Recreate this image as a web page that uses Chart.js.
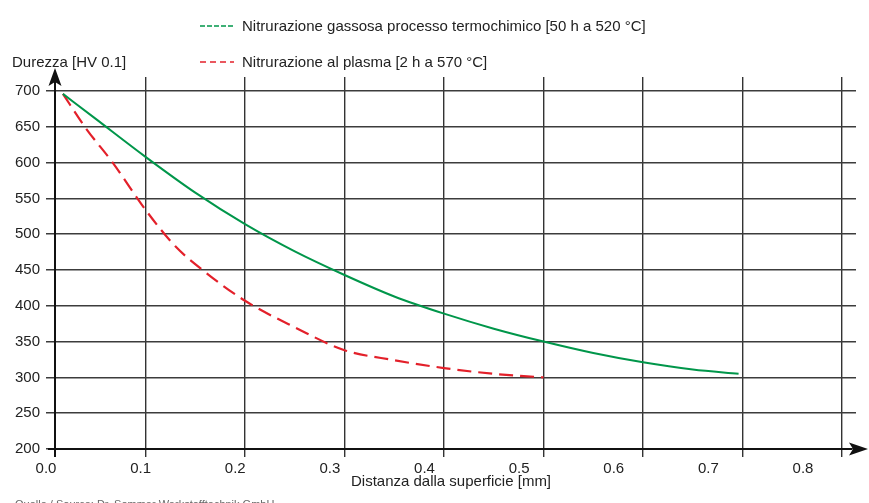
<!DOCTYPE html>
<html lang="it">
<head>
<meta charset="UTF-8">
<title>Durezza – nitrurazione gassosa vs plasma</title>
<script src="https://cdn.jsdelivr.net/npm/chart.js"></script>
<style>
  * { margin: 0; padding: 0; }
  body { width: 869px; height: 503px; overflow: hidden; background: #fff;
         font-family: "Liberation Sans", Arial, sans-serif; color: #222; }
  #wrap { position: relative; width: 869px; height: 503px; }
  #chart { position: absolute; left: 0; top: 0; }
  .lbl { position: absolute; font-size: 15px; line-height: 16px; white-space: nowrap; }
  .sample { position: absolute; }
  #source { position: absolute; left: 15px; top: 498px; font-size: 11px; line-height: 12px; color: #666; white-space: nowrap; }
</style>
</head>
<body>
<div id="wrap">
  <canvas id="chart" width="869" height="503"></canvas>
  <div id="legend"></div>
  <div class="lbl" id="ytitle" style="left:12px; top:54px;"></div>
  <div id="source">Quelle / Source: Dr. Sommer Werkstofftechnik GmbH</div>
</div>
<script>
  // values
  const xTicks = [0, 0.1, 0.2, 0.3, 0.4, 0.5, 0.6, 0.7, 0.8];
  const yTicks = [200, 250, 300, 350, 400, 450, 500, 550, 600, 650, 700];

  const gasDepth    = [0.017, 0.05, 0.1, 0.15, 0.2, 0.25, 0.3, 0.35, 0.4, 0.45, 0.5, 0.55, 0.6, 0.65, 0.696];
  const gasHardness = [696, 661, 608, 558, 514, 476, 443, 413, 389, 368, 350, 334, 321, 311, 305];

  const plasmaDepth    = [0.017, 0.04, 0.067, 0.1, 0.13, 0.16, 0.2, 0.25, 0.3, 0.35, 0.4, 0.45, 0.5];
  const plasmaHardness = [696, 648, 600, 534, 483, 447, 407, 370, 338, 324, 313, 305, 300];

  const seriesLabels = [
    'Nitrurazione gassosa processo termochimico [50 h a 520 °C]',
    'Nitrurazione al plasma [2 h a 570 °C]'
  ];
  const seriesColors = ['#00964a', '#e3202a'];
  const xTitle = 'Distanza dalla superficie [mm]';
  const yTitle = 'Durezza [HV 0.1]';

  document.getElementById('ytitle').textContent = yTitle;

  // legend (two rows, short dashed samples)
  const legendRows = [
    { top: 18, dash: '5 2', width: 1.4 },
    { top: 54, dash: '6 4', width: 1.6 }
  ];
  const legend = document.getElementById('legend');
  seriesLabels.forEach((label, i) => {
    const row = legendRows[i];
    legend.insertAdjacentHTML('beforeend',
      `<svg class="sample" style="left:200px; top:${row.top + 6}px" width="34" height="4">
         <line x1="0" y1="2" x2="34" y2="2" stroke="${seriesColors[i]}" stroke-width="${row.width}" stroke-dasharray="${row.dash}"/>
       </svg>
       <div class="lbl" style="left:242px; top:${row.top}px">${label}</div>`);
  });

  const toPoints = (xs, ys) => xs.map((x, i) => ({ x, y: ys[i] }));
  const tickList = vals => vals.map(v => ({ value: v }));

  // black axes with arrow heads
  const arrowAxes = {
    id: 'arrowAxes',
    afterDatasetsDraw(chart) {
      const { ctx, scales: { x, y }, chartArea } = chart;
      const ax = x.getPixelForValue(0) + 9;
      const ay = y.getPixelForValue(200);
      ctx.save();
      ctx.strokeStyle = '#111';
      ctx.fillStyle = '#111';
      ctx.lineWidth = 2;
      ctx.beginPath();
      ctx.moveTo(ax, chartArea.bottom);
      ctx.lineTo(ax, 82);
      ctx.moveTo(ax - 7, ay);
      ctx.lineTo(chartArea.right - 4, ay);
      ctx.stroke();

      ctx.beginPath();
      ctx.moveTo(ax, 68);
      ctx.lineTo(ax + 6.5, 86);
      ctx.lineTo(ax, 82);
      ctx.lineTo(ax - 6.5, 86);
      ctx.closePath();
      ctx.fill();

      const tip = chartArea.right + 12;
      ctx.beginPath();
      ctx.moveTo(tip, ay);
      ctx.lineTo(tip - 19, ay - 6.5);
      ctx.lineTo(tip - 15, ay);
      ctx.lineTo(tip - 19, ay + 6.5);
      ctx.closePath();
      ctx.fill();
      ctx.restore();
    }
  };

  const tickFont = { family: '"Liberation Sans", Arial, sans-serif', size: 15 };

  new Chart(document.getElementById('chart'), {
    type: 'line',
    data: {
      datasets: [{
        label: seriesLabels[0],
        data: toPoints(gasDepth, gasHardness),
        borderColor: seriesColors[0],
        borderWidth: 2,
        pointRadius: 0,
        cubicInterpolationMode: 'monotone'
      }, {
        label: seriesLabels[1],
        data: toPoints(plasmaDepth, plasmaHardness),
        borderColor: seriesColors[1],
        borderWidth: 2.2,
        borderDash: [14, 7],
        pointRadius: 0,
        cubicInterpolationMode: 'monotone'
      }]
    },
    options: {
      responsive: false,
      animation: false,
      devicePixelRatio: 1,
      layout: { padding: { top: 77, right: 13, bottom: 12, left: 0 } },
      plugins: { legend: { display: false }, tooltip: { enabled: false } },
      scales: {
        x: {
          type: 'linear',
          position: 'bottom',
          min: 0,
          max: 0.814,
          afterBuildTicks: s => { s.ticks = tickList(xTicks); },
          afterFit: s => { s.height = 0; },
          grid: {
            color: c => (c.tick && c.tick.value === 0) ? 'rgba(0,0,0,0)' : '#333',
            lineWidth: 1.4,
            drawTicks: false
          },
          border: { display: false },
          ticks: { display: false }
        },
        xLabels: {
          type: 'linear',
          position: 'bottom',
          min: 0,
          max: 0.856,
          afterBuildTicks: s => { s.ticks = tickList(xTicks); },
          afterFit: s => { s.height = 34; },
          grid: { display: false, drawTicks: false },
          border: { display: false },
          ticks: { padding: 3, color: '#222', font: tickFont, callback: v => v.toFixed(1) },
          title: { display: true, text: xTitle, color: '#222', font: tickFont, padding: 0 }
        },
        y: {
          min: 188.8,
          max: 719.55,
          afterBuildTicks: s => { s.ticks = tickList(yTicks); },
          afterFit: s => { s.width = 46; },
          grid: { color: '#3c3c3c', lineWidth: 1.4, drawTicks: false },
          border: { display: false },
          ticks: { padding: 6, color: '#222', font: tickFont }
        }
      }
    },
    plugins: [arrowAxes]
  });
</script>
</body>
</html>
